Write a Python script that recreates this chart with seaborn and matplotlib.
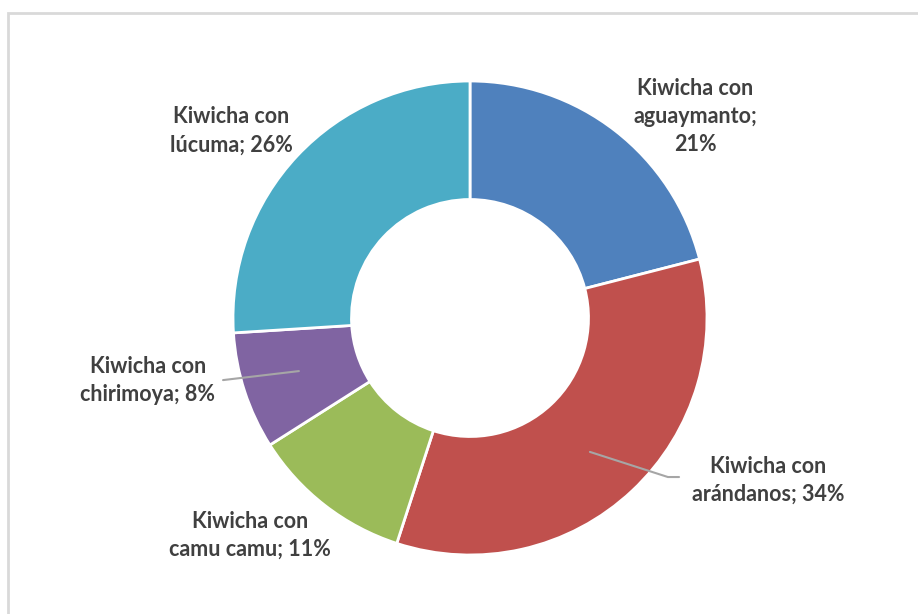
import matplotlib
matplotlib.use("Agg")
import matplotlib.pyplot as plt
import seaborn as sns
from matplotlib.patches import Rectangle

sns.set_style("white")
plt.rcParams['font.family'] = ['Lato', 'DejaVu Sans']

# Data
sabores = ['aguaymanto', 'arándanos', 'camu camu', 'chirimoya', 'lúcuma']
porcentajes = [21, 34, 11, 8, 26]
colores = ['#4F81BD', '#C0504D', '#9BBB59', '#8064A2', '#4BACC6']
etiquetas = ['Kiwicha con\naguaymanto;\n21%',
             'Kiwicha con\narándanos; 34%',
             'Kiwicha con\ncamu camu; 11%',
             'Kiwicha con\nchirimoya; 8%',
             'Kiwicha con\nlúcuma; 26%']
# label centres in pie units (radius = 1)
pos_etiquetas = [(0.95, 0.85), (1.257, -0.684), (-0.928, -0.916),
                 (-1.359, -0.262), (-1.008, 0.789)]

W, H = 918, 614
fig = plt.figure(figsize=(W / 100, H / 100), dpi=100)

# light frame of the chart area
fig.patches.append(Rectangle((8 / W, -0.1), 1.2, 1 - 13 / H + 0.1,
                             transform=fig.transFigure, fill=False,
                             edgecolor='#d9d9d9', linewidth=2))

cx, cy, r = 470, 318, 237
ax = fig.add_axes([(cx - r) / W, (H - cy - r) / H, 2 * r / W, 2 * r / H])

ax.pie(porcentajes, colors=colores, startangle=90, counterclock=False,
       radius=1, wedgeprops=dict(width=0.5, edgecolor='white', linewidth=2))
ax.set_xlim(-1, 1)
ax.set_ylim(-1, 1)
ax.set_aspect('equal')
ax.axis('off')

for txt, (x, y) in zip(etiquetas, pos_etiquetas):
    ax.text(x, y, txt, ha='center', va='center', fontsize=15.5,
            fontweight='bold', color='#404040', linespacing=1.42,
            clip_on=False)

# leader lines
ax.plot([-1.042, -0.722], [-0.262, -0.224], color='#a6a6a6', lw=1.5,
        clip_on=False)
ax.plot([0.506, 0.835, 0.882], [-0.565, -0.671, -0.671], color='#a6a6a6',
        lw=1.5, clip_on=False)

fig.savefig('out.png', dpi=100)
